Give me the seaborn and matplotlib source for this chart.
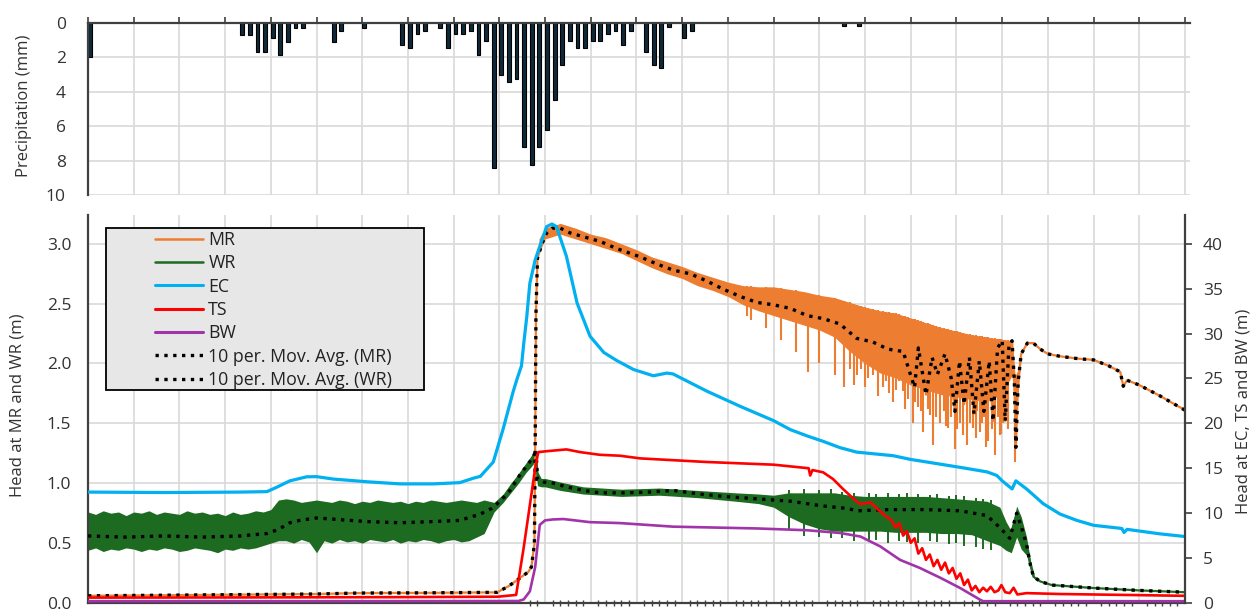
import numpy as np
import matplotlib
matplotlib.use("Agg")
import matplotlib.pyplot as plt
from matplotlib.lines import Line2D
from matplotlib.patches import Rectangle
from matplotlib.ticker import FixedLocator, FormatStrFormatter
import seaborn as sns

# ---------------- data (days from start) ----------------
precip_day = [0, 20, 21, 22, 23, 24, 25, 26, 27, 28, 32, 33, 36, 41, 42, 43, 44, 46, 47, 48, 49,
              50, 51, 52, 53, 54, 55, 56, 57, 58, 59, 60, 61, 62, 63, 64, 65, 66, 67, 68, 69,
              70, 71, 73, 74, 75, 76, 78, 79, 99, 101]
precip_mm = [2.0, 0.68, 0.68, 1.67, 1.67, 0.85, 1.88, 1.08, 0.27, 0.27, 1.08, 0.48, 0.27, 1.26, 1.48,
             0.66, 0.47, 0.27, 1.47, 0.66, 0.66, 0.45, 1.86, 1.06, 8.45, 3.04, 3.41, 3.24, 7.23, 8.24,
             7.23, 6.22, 4.46, 2.44, 1.06, 1.47, 1.47, 1.06, 1.06, 0.66, 0.46, 1.28, 0.46, 1.67, 2.44,
             2.64, 0.22, 0.85, 0.46, 0.2, 0.2]

# MR (left axis) 10-period moving average
mr_day = [0, 10, 20, 30, 35.3, 45, 53.7, 55.2, 56.3, 57.8, 58.2, 58.6, 58.7, 58.8, 59, 59.6, 60.2,
          60.9, 62, 63.3, 65.5, 67.2, 69.4, 72.5, 74.7, 76.8, 79, 81.2, 83.4, 85.6, 87.8, 90, 92.2,
          94.4, 96.5, 98.7, 100.9, 103, 105, 107, 108.5, 109, 110, 110.8, 111.5, 112.5, 113.3,
          113.8, 114.4, 115, 115.7, 116.3, 117, 117.6, 118.3, 118.8, 119.4, 120, 120.4, 120.9,
          121.3, 121.6, 121.8, 122.1, 122.5, 123.3, 124.1, 125, 126, 127.6, 130, 132, 134, 135.5,
          135.9, 136.4, 138, 140.7, 144]
mr_ma = [0.06, 0.065, 0.07, 0.075, 0.083, 0.085, 0.089, 0.14, 0.19, 0.26, 0.30, 0.49, 1.30, 2.41,
         2.88, 3.0, 3.09, 3.13, 3.13, 3.09, 3.05, 3.02, 2.96, 2.89, 2.83, 2.78, 2.75, 2.69, 2.62,
         2.56, 2.51, 2.49, 2.46, 2.40, 2.375, 2.33, 2.21, 2.18, 2.12, 2.10, 1.80, 2.13, 1.74, 2.05,
         1.91, 2.08, 1.88, 1.60, 2.02, 1.66, 2.05, 1.58, 2.02, 1.60, 2.02, 1.52, 2.13, 2.19, 1.52,
         2.16, 2.19, 1.85, 1.30, 1.85, 2.08, 2.17, 2.17, 2.12, 2.08, 2.06, 2.04, 2.03, 1.98, 1.93,
         1.81, 1.86, 1.82, 1.73, 1.61]
# MR raw fluctuation: dense core band plus downward spikes
mr_core_day = [59.2, 60, 62, 64, 66, 68, 70, 72, 74, 76, 78, 80, 82, 84, 86, 88, 90, 92, 94, 96,
               98, 100, 102, 104, 106, 108, 110, 112, 114, 116, 118, 120, 121.3, 121.7, 122.1,
               122.5]
mr_core_hi = [3.04, 3.13, 3.17, 3.13, 3.08, 3.05, 3.0, 2.95, 2.89, 2.85, 2.81, 2.76, 2.72, 2.68,
              2.65, 2.64, 2.64, 2.62, 2.60, 2.57, 2.55, 2.51, 2.47, 2.44, 2.42, 2.38, 2.34, 2.30,
              2.27, 2.24, 2.22, 2.20, 2.19, 1.90, 1.95, 2.10]
mr_core_lo = [2.92, 3.04, 3.08, 3.04, 3.0, 2.96, 2.92, 2.86, 2.80, 2.75, 2.71, 2.65, 2.61, 2.56,
              2.49, 2.44, 2.40, 2.36, 2.32, 2.28, 2.22, 2.10, 2.00, 1.92, 1.88, 1.82, 1.78, 1.74,
              1.72, 1.70, 1.68, 1.75, 1.90, 1.60, 1.75, 2.05]
mr_spike_day = [86.5, 87, 89, 91, 93, 94.5, 96, 98, 99.3, 100, 100.5, 101, 101.5, 102, 102.4,
                103.1, 103.7, 104.4, 104.8, 105.2, 105.7, 106.1, 106.5, 107, 107.3, 107.6, 108.3,
                108.6, 108.9, 109.3, 109.6, 110.2, 110.5, 110.9, 111.3, 111.8, 112.3, 112.6,
                112.9, 113.3, 113.8, 114.1, 114.5, 114.9, 115.4, 115.8, 116.2, 116.5, 116.7,
                117.1, 117.4, 117.6, 117.9, 118.2, 118.6, 119, 119.4, 119.7, 119.9, 120.1, 120.4,
                120.8, 121.7]
mr_spike_lo = [2.40, 2.36, 2.30, 2.20, 2.10, 1.93, 2.00, 1.90, 1.80, 1.95, 1.82, 1.90, 1.95, 1.80,
               1.88, 1.90, 1.73, 1.80, 1.85, 1.75, 1.68, 1.78, 1.85, 1.77, 1.62, 1.70, 1.50, 1.68,
               1.64, 1.60, 1.43, 1.62, 1.57, 1.32, 1.55, 1.50, 1.60, 1.48, 1.46, 1.55, 1.29, 1.45,
               1.50, 1.40, 1.32, 1.50, 1.46, 1.38, 1.60, 1.43, 1.50, 1.55, 1.30, 1.35, 1.45, 1.24,
               1.55, 1.40, 1.41, 1.50, 1.52, 1.45, 1.18]

# WR (left axis) 10-period moving average
wr_day = [0, 5, 10, 15, 20, 23.5, 24.8, 25.7, 26.5, 27.8, 30, 32.2, 36.6, 41, 45.3, 48.8, 51.4,
          53, 54.1, 55.4, 56.7, 58, 58.7, 58.9, 59, 59.8, 61.1, 62.8, 65, 67.2, 70.3, 73.3, 76.8,
          80.3, 83.4, 87.8, 92.2, 96.5, 99.6, 101, 105, 110, 114.5, 118, 119.7, 121, 121.9, 122.5,
          123.2, 123.7, 124.1, 125, 126.5, 132, 138, 144]
wr_ma = [0.56, 0.55, 0.56, 0.55, 0.56, 0.58, 0.61, 0.64, 0.67, 0.69, 0.71, 0.70, 0.68, 0.67, 0.68,
         0.69, 0.74, 0.79, 0.85, 0.94, 1.07, 1.18, 1.25, 1.18, 1.03, 1.01, 1.00, 0.97, 0.94, 0.92,
         0.92, 0.925, 0.94, 0.91, 0.89, 0.87, 0.85, 0.81, 0.79, 0.77, 0.78, 0.78, 0.77, 0.73, 0.63,
         0.54, 0.75, 0.64, 0.49, 0.32, 0.22, 0.18, 0.15, 0.125, 0.105, 0.09]
# WR raw fluctuation envelope
wr_band_day = [0, 1, 2, 3, 4, 5, 6, 7, 8, 9, 10, 11, 12, 13, 14, 15, 16, 17, 18, 19, 20, 21, 22,
               23, 24, 25, 26, 27, 28, 29, 30, 31, 32, 33, 34, 35, 36, 37, 38, 39, 40, 41, 42, 43,
               44, 45, 46, 47, 48, 49, 50, 51, 52,
               53.3, 54.5, 55.5, 56.5, 57.5, 58.2, 58.7, 59.0, 59.5, 60, 62, 65, 70, 75, 80, 85,
               88, 90, 92, 94, 96, 98, 100, 102, 104, 106, 108, 110, 112, 114, 116, 118,
               119.7, 120.5, 121.2, 121.9, 122.5, 123.2, 123.7, 124.2]
wr_band_hi = [0.76, 0.74, 0.77, 0.75, 0.76, 0.73, 0.76, 0.75, 0.77, 0.74, 0.76, 0.75, 0.74, 0.77,
              0.75, 0.76, 0.74, 0.75, 0.73, 0.76, 0.74, 0.75, 0.77, 0.76,
              0.78, 0.86,
              0.87, 0.86, 0.84, 0.85, 0.86, 0.85, 0.84, 0.86, 0.85, 0.83, 0.85, 0.84, 0.86, 0.85,
              0.84, 0.85, 0.83, 0.85, 0.84, 0.86, 0.85, 0.84, 0.85, 0.86, 0.85, 0.84, 0.86,
              0.84, 0.91, 1.0, 1.08, 1.17, 1.23, 1.31, 1.10, 1.04, 1.04, 1.01, 0.97, 0.95, 0.96,
              0.94, 0.92, 0.91, 0.90, 0.92, 0.92, 0.92, 0.92, 0.90, 0.89, 0.89, 0.89, 0.89, 0.89,
              0.88, 0.87, 0.86, 0.85,
              0.80, 0.68, 0.60, 0.81, 0.72, 0.55, 0.36, 0.24]
wr_band_lo = [0.44, 0.46, 0.43, 0.45, 0.44, 0.46, 0.45, 0.43, 0.45, 0.44, 0.46, 0.45, 0.43, 0.44,
              0.46, 0.45, 0.44, 0.42, 0.45, 0.44, 0.46, 0.45, 0.46, 0.48,
              0.50, 0.52,
              0.52, 0.50, 0.53, 0.51, 0.42, 0.52, 0.50, 0.53, 0.51, 0.52, 0.50, 0.53, 0.52, 0.51,
              0.53, 0.50, 0.52, 0.51, 0.53, 0.52, 0.50, 0.52, 0.53, 0.51, 0.52, 0.55, 0.58,
              0.76, 0.84, 0.92, 1.00, 1.09, 1.14, 1.18, 0.98, 0.97, 0.97, 0.94, 0.91, 0.89, 0.90,
              0.88, 0.85, 0.83, 0.80, 0.72, 0.66, 0.62, 0.60, 0.60, 0.60, 0.60, 0.59, 0.59, 0.59,
              0.58, 0.58, 0.57, 0.52,
              0.48, 0.44, 0.42, 0.55, 0.45, 0.40, 0.29, 0.20]
wr_spike_day = [92, 94, 96, 97.5, 99, 100.5, 102.5, 103.5, 105, 106.5, 107.5, 109, 110.5, 111.5,
                113, 114, 115, 116.5, 117.5, 118.5]
wr_spike_lo = [0.62, 0.56, 0.55, 0.54, 0.54, 0.52, 0.51, 0.53, 0.50, 0.52, 0.51, 0.50, 0.52, 0.51,
               0.49, 0.50, 0.48, 0.47, 0.45, 0.44]
wr_spike_hi = [0.94, 0.95, 0.94, 0.95, 0.93, 0.92, 0.92, 0.91, 0.92, 0.91, 0.92, 0.91, 0.90, 0.91,
               0.89, 0.90, 0.89, 0.88, 0.87, 0.86]

# EC, TS, BW (right axis)
ec_day = [0, 10, 20, 23.5, 24.8, 26.5, 28.7, 30, 32.2, 36.6, 41, 45.3, 48.8, 50.6, 51.5, 53.2,
          54.5, 55.8, 56.3, 56.9, 57.2, 57.6, 58, 58.7, 59.3, 60.2, 60.9, 61.5, 62.8, 64.2, 65.9,
          67.7, 69.4, 71.6, 74.2, 76, 76.8, 81.2, 85.6, 90, 92.2, 94.4, 96.5, 98.7, 100.9, 105.7,
          107.9, 110.1, 114.5, 118, 119.3, 120, 121.3, 121.8, 123.2, 125.4, 127.6, 129.8, 132,
          135.7, 136, 136.4, 140.7, 144]
ec_m = [12.35, 12.3, 12.35, 12.4, 12.9, 13.6, 14.05, 14.07, 13.8, 13.5, 13.26, 13.26, 13.4, 13.9,
        14.1, 15.7, 19.4, 23.5, 24.9, 26.4, 28.9, 31.9, 35.6, 38.2, 39.7, 41.9, 42.2, 41.9, 38.6,
        33.4, 29.7, 27.9, 27.0, 26.0, 25.3, 25.6, 25.5, 23.6, 21.9, 20.3, 19.3, 18.6, 18.0, 17.3,
        16.8, 16.4, 16.0, 15.7, 15.1, 14.6, 14.2, 13.6, 12.7, 13.6, 12.7, 11.05, 9.9, 9.2, 8.65,
        8.3, 7.85, 8.2, 7.7, 7.4]
ts_day = [0, 20, 40, 53.8, 56.2, 57.2, 58, 58.7, 59.1, 60.2, 62.8, 64.6, 67.2, 69.8, 72.5, 81.2,
          90, 93.5, 94.6, 94.8, 95.1, 96.5, 97.8, 99.1, 100.5, 101.4, 102.7, 104.5, 105.5, 106,
          106.5, 107, 107.5, 108, 108.5, 109, 109.5, 110, 110.5, 111, 111.5, 112, 112.5, 113,
          113.5, 114, 114.5, 115, 115.5, 116, 116.5, 117, 117.5, 118, 118.5, 119, 119.5, 119.9,
          120.4, 121, 121.5, 122, 123.2, 127.6, 136, 144]
ts_m = [0.6, 0.62, 0.65, 0.7, 0.9, 6.2, 10.9, 15.0, 16.8, 16.9, 17.1, 16.8, 16.5, 16.4, 16.1, 15.7,
        15.4, 15.1, 15.0, 14.2, 14.8, 14.55, 13.8, 12.7, 11.6, 11.0, 11.2, 9.8, 9.2, 8.4, 8.9, 7.5,
        8.0, 6.7, 7.2, 5.5, 6.1, 4.8, 5.4, 4.1, 4.8, 3.7, 4.5, 3.3, 3.9, 2.7, 3.3, 2.0, 2.6, 1.4,
        1.9, 1.2, 1.7, 1.3, 1.8, 1.2, 1.4, 2.0, 1.2, 1.1, 1.7, 0.95, 1.1, 1.0, 0.9, 0.8]
bw_day = [0, 30, 56.5, 57.2, 58, 58.7, 59.3, 60, 61, 62.4, 65.9, 69.8, 76.8, 87.8, 94.4, 98.7,
          101.4, 104, 106.6, 109.2, 111.9, 114.5, 117.1, 117.5, 130, 144]
bw_m = [0.2, 0.2, 0.22, 0.4, 1.3, 4.0, 8.7, 9.2, 9.3, 9.35, 9.0, 8.9, 8.5, 8.3, 8.1, 7.8, 7.4,
        6.3, 4.8, 3.9, 2.8, 1.66, 0.37, 0.2, 0.2, 0.2]

series_names = ["MR", "WR", "EC", "TS", "BW",
                "10 per. Mov. Avg. (MR)", "10 per. Mov. Avg. (WR)"]
precip_label = "Precipitation (mm)"
left_label = "Head at MR and WR (m)"
right_label = "Head at EC, TS and BW (m)"

# ---------------- style ----------------
sns.set_theme(style="white")
plt.rcParams["font.family"] = ["Open Sans", "DejaVu Sans"]

MR_C, WR_C, EC_C, TS_C, BW_C = "#ED7D31", "#1D6B21", "#00B0F0", "#FF0000", "#A034A8"
GRID_C, SPINE_C, TXT_C = "#D9D9D9", "#404040", "#333333"

W, H = 1256, 612
fig = plt.figure(figsize=(W / 100, H / 100), dpi=100)
fig.patch.set_facecolor("white")


def box(l, t, r, b):
    return [l / W, 1 - b / H, (r - l) / W, (b - t) / H]


AX_T, AX_B = 215, 603
ax_p = fig.add_axes(box(88, 23, 1190, 195))
ax = fig.add_axes(box(88, AX_T, 1185, AX_B))
ax2 = ax.twinx()

xmax = 144
major_x = np.arange(0, xmax + 1, 6)

# ---------------- precipitation panel ----------------
sns.barplot(x=np.array(precip_day) + 0.25, y=precip_mm, native_scale=True, orient="x",
            width=0.5, color="#0E2A3A", saturation=1, edgecolor="black", linewidth=0.8,
            errorbar=None, ax=ax_p)
ax_p.set_xlim(0, xmax * 1102 / 1097)
ax_p.set_ylim(10, 0)
ax_p.xaxis.tick_top()
ax_p.set_xticks(major_x)
ax_p.set_xticklabels([])
ax_p.set_yticks(range(0, 11, 2))
ax_p.grid(True, color=GRID_C, lw=1.2)
ax_p.set_axisbelow(True)
for s in ["right", "bottom"]:
    ax_p.spines[s].set_visible(False)
for s in ["top", "left"]:
    ax_p.spines[s].set_color(SPINE_C)
    ax_p.spines[s].set_linewidth(1.6)
ax_p.tick_params(axis="x", which="major", direction="out", length=4, width=1.2,
                 color=SPINE_C, top=True, bottom=False, labeltop=False, labelbottom=False)
ax_p.tick_params(axis="y", length=0, pad=16, labelsize=12.5, labelcolor=TXT_C)
ax_p.set_xlabel("")
ax_p.set_ylabel("")

# ---------------- head panel ----------------
ax.fill_between(wr_band_day, wr_band_lo, wr_band_hi, color=WR_C, lw=0, zorder=2)
ax.vlines(wr_spike_day, wr_spike_lo, wr_spike_hi, color=WR_C, lw=1.4, zorder=2)
ax.fill_between(mr_core_day, mr_core_lo, mr_core_hi, color=MR_C, lw=0, zorder=2)
ax.vlines(mr_spike_day, mr_spike_lo, np.interp(mr_spike_day, mr_core_day, mr_core_hi),
          color=MR_C, lw=1.5, zorder=2)
sns.lineplot(x=wr_day, y=wr_ma, color=WR_C, linewidth=1.6, ax=ax, zorder=2)
sns.lineplot(x=mr_day, y=mr_ma, color=MR_C, linewidth=1.6, ax=ax, zorder=2)
sns.lineplot(x=mr_day, y=mr_ma, color="black", linewidth=2.4, linestyle=":", ax=ax, zorder=3)
sns.lineplot(x=wr_day, y=wr_ma, color="black", linewidth=2.4, linestyle=":", ax=ax, zorder=3)

sns.lineplot(x=ec_day, y=ec_m, color=EC_C, linewidth=2.3, ax=ax2, zorder=2)
sns.lineplot(x=ts_day, y=ts_m, color=TS_C, linewidth=1.9, ax=ax2, zorder=2)
sns.lineplot(x=bw_day, y=bw_m, color=BW_C, linewidth=1.9, ax=ax2, zorder=2)

ax.set_xlim(0, xmax)
ax.set_ylim(0, 3.24)
ax2.set_ylim(0, 43.2)
ax.set_xticks(major_x)
ax.xaxis.set_minor_locator(FixedLocator([d for d in range(58, xmax) if d % 6 != 0]))
ax.set_xticklabels([])
ax.set_yticks(np.arange(0, 3.01, 0.5))
ax.yaxis.set_major_formatter(FormatStrFormatter("%.1f"))
ax2.set_yticks(range(0, 41, 5))
ax.grid(True, which="major", color=GRID_C, lw=1.2)
ax.set_axisbelow(True)
ax.set_xlabel("")
ax.set_ylabel("")
ax2.set_ylabel("")

for a in (ax, ax2):
    a.spines["top"].set_visible(False)
ax.spines["right"].set_visible(False)
ax2.spines["left"].set_visible(False)
ax2.spines["bottom"].set_visible(False)
for s in ["left", "bottom"]:
    ax.spines[s].set_color(SPINE_C)
    ax.spines[s].set_linewidth(1.6)
ax2.spines["right"].set_color(SPINE_C)
ax2.spines["right"].set_linewidth(1.6)

ax.tick_params(axis="y", length=0, pad=12, labelsize=12.5, labelcolor=TXT_C)
ax.tick_params(axis="x", which="major", direction="inout", length=8, width=1.2,
               color=SPINE_C, labelbottom=False)
ax.tick_params(axis="x", which="minor", direction="inout", length=5, width=1.0,
               color=SPINE_C, bottom=True)
ax2.tick_params(axis="y", direction="out", length=5, width=1.2, color=SPINE_C, pad=8,
                labelsize=12.5, labelcolor=TXT_C)

# ---------------- legend ----------------
hpx = AX_B - AX_T
legend_box = Rectangle(((106 - 88) / 1097, (AX_B - 390) / hpx), 318 / 1097, 162 / hpx,
                       transform=ax2.transAxes, facecolor="#E7E7E7", edgecolor="black",
                       lw=1.3, zorder=5)
ax2.add_patch(legend_box)
handles = [Line2D([], [], color=MR_C, lw=1.8), Line2D([], [], color=WR_C, lw=1.8),
           Line2D([], [], color=EC_C, lw=2.2), Line2D([], [], color=TS_C, lw=2.2),
           Line2D([], [], color=BW_C, lw=2.2),
           Line2D([], [], color="black", lw=2.4, ls=":"),
           Line2D([], [], color="black", lw=2.4, ls=":")]
leg = ax2.legend(handles, series_names, loc="upper left",
                 bbox_to_anchor=((155 - 88) / 1097, (AX_B - 231) / hpx),
                 bbox_transform=ax2.transAxes, frameon=False, fontsize=12.8,
                 handlelength=2.7, handletextpad=0.3, labelspacing=0.3, borderpad=0,
                 borderaxespad=0)
for t in leg.get_texts():
    t.set_color("#222222")
leg.set_zorder(6)

# ---------------- axis titles ----------------
fig.text(24 / W, 1 - 105.5 / H, precip_label, rotation=90, ha="center", va="center",
         fontsize=12, color=TXT_C)
fig.text(17.5 / W, 1 - 405.5 / H, left_label, rotation=90, ha="center", va="center",
         fontsize=12, color=TXT_C)
fig.text(1243 / W, 1 - 411 / H, right_label, rotation=90, ha="center", va="center",
         fontsize=12, color=TXT_C)

fig.savefig("out.png", dpi=100, facecolor="white")
